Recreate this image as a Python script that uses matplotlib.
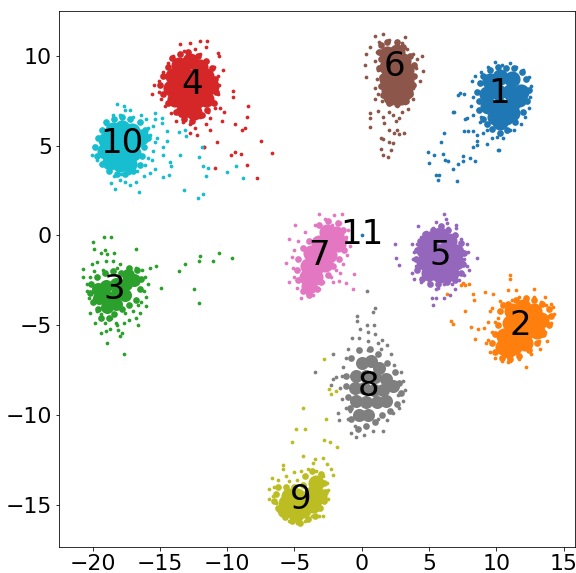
import matplotlib
matplotlib.use("Agg")
import matplotlib.pyplot as plt

colors = ['tab:blue', 'tab:orange', 'tab:green', 'tab:red', 'tab:purple', 'tab:brown',
          'tab:pink', 'tab:gray', 'tab:olive', 'tab:cyan', 'tab:blue']
names = ['1', '2', '3', '4', '5', '6', '7', '8', '9', '10', '11']
label_x = [10.2, 11.8, -18.4, -12.6, 5.85, 2.45, -3.2, 0.5, -4.55, -17.8, 0.0]
label_y = [7.9, -5.0, -3.0, 8.4, -1.1, 9.4, -1.1, -8.4, -14.7, 5.1, 0.05]
x_ticks = [-20, -15, -10, -5, 0, 5, 10, 15]
y_ticks = [-15, -10, -5, 0, 5, 10]

# individual points
pts_1 = [(6.1, 5.7), (5.9, 5.2), (4.9, 4.65), (5.4, 4.5), (6.05, 4.55), (5.0, 4.05), (6.2, 4.2), (6.4, 4.15),
         (7.15, 4.0), (7.5, 4.4), (7.5, 4.15), (8.05, 4.3), (8.4, 4.15), (6.8, 3.7), (5.55, 3.35), (5.75, 3.35),
         (5.65, 3.1), (7.05, 3.05), (8.25, 4.9), (8.55, 5.25), (8.55, 5.05), (9.3, 5.1), (10.1, 4.75), (10.2, 4.75),
         (6.8, 6.9), (6.85, 6.9), (7.15, 7.8), (7.3, 7.95), (7.6, 7.9), (7.7, 6.5), (7.8, 6.55), (7.6, 5.8),
         (7.9, 5.8), (8.3, 5.8), (8.6, 5.6), (9.7, 5.45), (10.05, 5.5), (11.0, 5.85), (8.2, 8.6), (8.4, 8.9),
         (8.9, 9.1), (9.4, 9.4), (9.9, 9.65), (10.4, 9.5), (11.0, 9.6), (11.5, 9.4), (12.0, 9.2), (12.4, 8.8),
         (12.6, 8.3), (12.5, 7.7), (12.4, 7.1), (12.1, 6.6), (11.8, 6.2), (11.3, 5.9), (9.3, 5.9), (8.8, 6.3),
         (8.3, 6.7), (8.1, 7.2), (8.3, 7.7), (8.7, 8.0), (8.9, 6.6), (9.0, 5.7), (10.5, 5.4), (10.7, 5.8)]
mid_1 = [(8.6, 8.0), (8.7, 7.5), (8.7, 7.0), (9.0, 6.5), (9.3, 6.2), (9.7, 5.95), (10.3, 5.7), (10.8, 5.9), (11.4, 6.3),
         (12.0, 6.9), (12.3, 7.5), (12.4, 8.1), (12.2, 8.7), (11.9, 9.1), (11.3, 9.3), (10.7, 9.3), (10.1, 9.4),
         (9.5, 9.2), (9.0, 8.9), (8.8, 8.5)]
core_1 = [(9.5, 8.6), (10.3, 8.8), (11.2, 8.7), (9.3, 7.9), (10.1, 8.0), (11.0, 8.0), (11.8, 8.0), (9.4, 7.2), (10.3, 7.2),
          (11.2, 7.3), (11.7, 7.6), (9.9, 6.6), (10.7, 6.6), (11.2, 6.8), (10.3, 6.3)]

pts_2 = [(11.05, -2.23), (11.0, -2.42), (7.53, -2.65), (7.7, -2.75), (7.35, -2.75), (7.95, -2.7), (8.3, -3.25),
         (8.35, -3.6), (9.15, -3.17), (9.75, -3.25), (6.35, -3.25), (7.7, -4.2), (6.65, -4.75), (6.8, -4.95),
         (8.1, -5.1), (8.65, -5.2), (9.05, -5.15), (8.45, -5.75), (10.85, -3.05), (11.45, -3.05), (12.8, -3.0),
         (14.1, -3.8), (13.65, -3.4), (13.8, -5.85), (12.2, -7.3), (11.05, -7.0), (11.7, -6.9), (13.25, -6.35),
         (9.65, -4.05), (9.4, -4.8), (10.25, -3.65), (9.5, -4.2), (9.9, -4.8), (9.2, -6.0), (9.5, -6.5), (9.9, -6.8),
         (10.4, -7.0), (10.9, -7.05), (12.6, -6.6), (13.2, -5.9), (13.6, -5.4), (14.1, -4.9), (14.3, -4.4),
         (14.2, -4.0), (13.3, -3.7), (12.8, -3.4), (12.3, -3.6), (11.7, -3.4), (11.2, -3.6), (10.6, -3.9),
         (10.2, -4.2), (10.1, -4.6), (9.7, -5.4), (9.35, -5.8), (13.9, -4.5), (13.7, -3.9)]
mid_2 = [(10.3, -4.2), (10.5, -3.9), (10.1, -5.0), (9.9, -5.5), (9.7, -6.0), (9.9, -6.5), (10.4, -6.8), (11.0, -6.9),
         (11.7, -6.7), (12.4, -6.4), (13.0, -6.0), (13.5, -5.5), (13.9, -5.0), (14.1, -4.5), (13.9, -4.1), (13.4, -3.8),
         (12.8, -3.6), (12.2, -3.5), (11.5, -3.6), (10.9, -3.8)]
core_2 = [(11.2, -4.2), (12.0, -4.0), (12.8, -4.2), (13.3, -4.7), (12.6, -4.8), (11.8, -4.7), (11.0, -4.9), (10.6, -5.6),
          (11.4, -5.5), (12.2, -5.4), (13.0, -5.3), (10.5, -6.2), (11.3, -6.2), (12.1, -6.0), (10.9, -6.4)]

pts_3 = [(-19.13, -0.07), (-18.64, -0.11), (-19.95, -0.35), (-19.9, -0.76), (-19.08, -0.82), (-16.77, -0.76),
         (-18.4, -0.99), (-18.9, -1.02), (-19.35, -0.99), (-15.3, -1.7), (-15.7, -1.8), (-14.9, -2.9), (-13.6, -1.97),
         (-13.1, -1.6), (-12.1, -1.4), (-12.05, -1.12), (-11.07, -1.4), (-10.6, -0.99), (-9.65, -1.26), (-12.45, -3.0),
         (-12.1, -3.75), (-18.9, -6.0), (-17.7, -6.6), (-20.7, -2.3), (-20.7, -1.85), (-16.0, -3.95), (-16.6, -5.0),
         (-17.8, -5.45), (-18.0, -5.6), (-18.1, -5.25), (-19.35, -5.45), (-19.8, -4.9), (-20.2, -4.3), (-20.05, -1.6),
         (-19.7, -1.5), (-19.0, -1.45), (-18.5, -1.4), (-18.0, -1.6), (-17.4, -1.8), (-16.8, -1.8), (-16.3, -1.9),
         (-16.1, -2.3), (-15.9, -2.7), (-16.2, -3.1), (-16.0, -3.4), (-16.4, -3.7), (-16.5, -4.3), (-16.8, -4.6),
         (-17.3, -4.7), (-17.7, -4.9), (-18.3, -4.9), (-18.6, -4.6), (-19.1, -4.9), (-19.4, -4.4), (-19.7, -4.2),
         (-20.3, -3.5), (-20.4, -3.1), (-20.4, -2.7), (-20.2, -2.3), (-19.9, -2.0), (-17.0, -4.2), (-17.6, -4.3),
         (-18.2, -5.0), (-18.7, -5.2), (-19.0, -5.3), (-16.6, -3.9), (-19.2, -1.9), (-18.2, -1.8)]
mid_3 = [(-20.1, -2.7), (-20.2, -3.2), (-20.0, -3.7), (-19.6, -4.1), (-19.4, -4.6), (-18.8, -4.6), (-18.4, -4.4),
         (-17.8, -4.1), (-17.3, -3.9), (-16.8, -3.6), (-16.5, -3.0), (-16.4, -2.4), (-16.7, -1.9), (-17.3, -1.8),
         (-17.9, -2.1), (-18.5, -2.0), (-19.1, -2.1), (-19.7, -2.3)]
core_3 = [(-19.6, -3.0), (-19.0, -2.8), (-18.3, -2.7), (-19.5, -3.5), (-18.9, -3.4), (-18.2, -3.2), (-18.9, -4.0),
          (-18.3, -3.8), (-17.5, -2.7), (-16.9, -2.5), (-17.4, -2.2), (-17.6, -3.3)]

pts_4 = [(-8.47, 7.2), (-8.5, 6.6), (-9.4, 6.2), (-8.65, 6.0), (-8.9, 5.9), (-7.5, 5.24), (-6.65, 4.6), (-10.75, 5.2),
         (-11.75, 4.92), (-11.7, 4.9), (-9.4, 4.65), (-8.95, 4.56), (-9.7, 4.47), (-8.55, 3.92), (-10.9, 3.78),
         (-7.75, 3.2), (-12.25, 5.58), (-12.8, 5.7), (-11.6, 6.2), (-11.3, 5.9), (-10.4, 6.4), (-11.3, 6.55),
         (-10.5, 7.1), (-10.25, 6.85), (-9.6, 8.05), (-9.6, 7.7), (-10.3, 9.2), (-10.65, 10.15), (-10.6, 10.0),
         (-12.0, 10.85), (-11.5, 10.85), (-11.6, 10.5), (-15.6, 7.9), (-15.45, 8.4), (-13.5, 10.65), (-13.2, 10.3),
         (-12.8, 10.7), (-12.4, 10.4), (-14.0, 10.0), (-14.4, 9.6), (-14.8, 9.1), (-15.1, 8.6), (-15.1, 8.0),
         (-14.9, 7.6), (-14.6, 7.2), (-14.2, 6.8), (-13.8, 6.4), (-13.3, 6.3), (-12.8, 6.2), (-12.4, 6.0), (-12.0, 6.6),
         (-11.4, 6.9), (-11.0, 7.4), (-10.7, 7.9), (-10.6, 8.4), (-10.7, 8.9), (-11.0, 9.4), (-11.5, 9.7), (-12.0, 10.1),
         (-13.5, 6.7), (-14.3, 7.5), (-10.9, 7.1), (-13.0, 10.0), (-12.3, 9.9)]
mid_4 = [(-14.8, 8.9), (-14.4, 9.4), (-14.1, 9.9), (-13.5, 10.1), (-12.9, 10.2), (-12.2, 10.0), (-11.6, 9.7), (-11.1, 9.3),
         (-10.9, 8.7), (-10.8, 8.0), (-11.0, 7.4), (-11.5, 7.0), (-11.9, 6.7), (-12.6, 6.4), (-13.2, 6.5), (-13.8, 6.9),
         (-14.4, 7.4), (-14.8, 7.9), (-15.0, 8.4)]
core_4 = [(-13.6, 9.5), (-12.8, 9.7), (-12.0, 9.4), (-14.0, 8.9), (-13.2, 9.0), (-12.4, 8.9), (-11.6, 8.9), (-14.2, 8.2),
          (-13.4, 8.3), (-12.6, 8.2), (-11.8, 8.2), (-11.2, 8.3), (-13.9, 7.6), (-13.1, 7.6), (-12.3, 7.5), (-11.6, 7.6),
          (-13.2, 7.0), (-12.5, 6.9)]

pts_5 = [(6.1, 1.17), (4.15, 0.55), (2.5, -0.45), (2.55, -1.25), (2.75, -1.65), (8.6, -1.28), (5.3, -3.85), (5.25, -3.5),
         (5.55, -3.5), (6.1, -3.5), (6.55, -3.3), (6.95, -3.0), (6.25, 0.9), (5.55, 0.75), (7.0, 0.6), (7.0, 0.4),
         (6.3, 0.7), (3.7, -0.5), (8.0, -1.9), (4.4, -0.1), (4.8, 0.2), (5.3, 0.4), (5.8, 0.5), (6.4, 0.4), (6.9, 0.1),
         (7.4, -0.2), (7.8, -0.5), (7.9, -0.9), (7.6, -1.3), (7.8, -1.7), (7.6, -2.2), (7.2, -2.5), (6.7, -2.7),
         (6.1, -2.7), (5.5, -3.0), (5.0, -2.6), (4.4, -2.6), (3.9, -2.4), (3.7, -2.1), (4.0, -1.7), (3.8, -1.3),
         (3.9, -0.9), (4.1, -0.5), (5.7, -2.9), (6.5, -2.5), (7.3, -0.7)]
mid_5 = [(4.3, -0.3), (4.7, 0.1), (5.3, 0.3), (5.9, 0.5), (6.4, 0.3), (6.9, 0.0), (7.4, -0.4), (7.6, -1.0), (7.5, -1.6),
         (7.4, -2.1), (6.9, -2.5), (6.3, -2.6), (5.7, -2.7), (5.1, -2.7), (4.5, -2.4), (4.1, -1.9), (4.0, -1.3), (4.1, -0.8)]
core_5 = [(5.0, -0.2), (5.8, 0.0), (6.5, -0.3), (4.6, -0.8), (5.4, -0.8), (6.2, -0.8), (7.0, -0.9), (4.6, -1.5), (5.4, -1.5),
          (6.2, -1.5), (7.0, -1.5), (5.0, -2.1), (5.8, -2.2), (6.6, -2.1)]

pts_6 = [(0.22, 9.5), (0.35, 8.8), (0.3, 10.1), (0.6, 10.5), (1.0, 11.1), (1.6, 11.2), (3.2, 11.05), (4.45, 10.0),
         (4.55, 9.15), (4.3, 8.6), (3.8, 7.6), (3.45, 7.05), (0.6, 6.8), (0.6, 6.55), (0.6, 6.05), (1.65, 6.25),
         (1.2, 6.95), (2.8, 6.55), (2.55, 6.4), (2.0, 5.85), (2.65, 5.85), (2.4, 5.7), (2.75, 5.65), (3.15, 5.7),
         (1.45, 5.4), (1.6, 5.35), (2.0, 5.2), (2.3, 5.15), (1.4, 4.8), (2.15, 4.75), (1.6, 4.5), (1.95, 4.35),
         (1.3, 10.8), (2.0, 10.9), (2.6, 10.8), (3.0, 10.7), (3.4, 10.4), (3.8, 10.1), (4.1, 9.8), (4.0, 9.3),
         (3.9, 8.8), (3.8, 8.2), (3.6, 7.8), (3.2, 7.4), (2.6, 7.2), (2.0, 7.3), (1.5, 7.5), (1.2, 7.9), (1.0, 8.2),
         (1.1, 8.7), (1.2, 9.2), (1.0, 9.7), (1.1, 10.2), (1.0, 7.6), (2.0, 6.9), (1.6, 6.6), (2.3, 6.7), (3.0, 6.9)]
mid_6 = [(1.4, 10.6), (1.9, 10.8), (2.6, 10.8), (3.1, 10.5), (3.6, 10.0), (3.9, 9.5), (3.9, 8.9), (3.8, 8.4), (3.6, 7.9),
         (3.3, 7.5), (2.6, 7.3), (2.0, 7.4), (1.6, 7.8), (1.4, 8.3), (1.5, 8.8), (1.3, 9.3), (1.4, 9.8), (1.3, 10.2)]
core_6 = [(1.9, 10.1), (2.6, 10.2), (3.1, 9.7), (1.9, 9.4), (2.6, 9.5), (3.3, 9.2), (1.9, 8.7), (2.6, 8.8), (3.3, 8.6),
          (2.0, 8.1), (2.7, 8.1), (3.2, 8.0), (2.2, 7.7), (2.9, 7.7)]

pts_7 = [(-1.45, 1.17), (-2.07, 1.13), (-0.6, -2.15), (-0.67, -3.0), (-1.2, -2.65), (-1.7, -2.55), (-4.93, 0.6),
         (-5.4, -0.17), (-5.6, -1.53), (-5.4, -2.6), (-4.5, -3.5), (-3.2, 1.17), (-2.7, 0.9), (-3.5, 0.6), (-4.2, 0.2),
         (-4.7, -0.3), (-5.0, -0.8), (-5.2, -1.2), (-5.1, -1.8), (-5.0, -2.3), (-4.8, -2.9), (-4.1, -3.2), (-3.6, -3.3),
         (-3.2, -3.0), (-2.9, -2.6), (-2.3, -2.3), (-1.9, -1.9), (-1.4, -1.6), (-1.1, -1.1), (-0.9, -0.6), (-1.2, -0.1),
         (-1.0, 0.3), (-1.6, 0.7), (-2.2, 0.6), (-2.9, 0.3), (-4.0, -3.0), (-2.1, -2.6), (-1.6, -2.1)]
mid_7 = [(-3.2, 0.6), (-2.5, 0.8), (-1.8, 0.7), (-1.4, 0.3), (-1.3, -0.2), (-1.3, -0.8), (-1.7, -1.3), (-2.1, -1.7),
         (-2.5, -2.2), (-3.0, -2.6), (-3.3, -3.0), (-3.9, -3.3), (-4.4, -3.1), (-4.7, -2.5), (-4.8, -1.9), (-4.7, -1.3),
         (-4.4, -0.7), (-3.9, -0.3)]
core_7 = [(-2.6, 0.2), (-1.9, 0.1), (-3.2, -0.4), (-2.5, -0.5), (-1.8, -0.5), (-3.8, -1.0), (-3.1, -1.1), (-2.4, -1.1),
          (-4.0, -1.7), (-3.3, -1.7), (-2.7, -1.6), (-4.1, -2.3), (-3.5, -2.3), (-3.9, -2.8)]

pts_8 = [(0.4, -3.12), (1.0, -4.05), (0.8, -4.25), (-0.32, -4.5), (-0.32, -4.75), (-3.45, -7.6), (-2.15, -6.6),
         (-2.1, -8.0), (-2.25, -8.35), (-1.8, -9.9), (-1.7, -10.3), (0.4, -5.0), (0.9, -5.0), (-0.1, -5.2), (0.5, -5.4),
         (1.0, -5.5), (1.5, -5.8), (-0.7, -5.7), (-0.2, -5.7), (0.5, -5.9), (1.2, -6.0), (1.9, -6.1), (-1.0, -6.3),
         (-0.3, -6.3), (0.5, -6.4), (1.4, -6.3), (2.2, -6.6), (-1.2, -6.8), (2.4, -7.2), (-1.4, -7.3), (2.9, -7.6),
         (3.1, -8.1), (3.2, -8.6), (3.1, -9.2), (2.8, -9.6), (2.3, -9.9), (1.9, -10.3), (1.2, -10.2), (1.6, -10.9),
         (0.8, -10.9), (0.2, -11.1), (-0.4, -11.2), (-0.8, -11.0), (-0.5, -10.6), (-1.0, -10.2), (-1.2, -9.6),
         (-1.5, -9.1), (-1.6, -8.5), (-1.9, -7.9), (-1.5, -7.8), (2.4, -8.2), (2.7, -8.9), (-0.9, -9.8)]
mid_8 = [(-0.8, -6.8), (-0.2, -6.4), (0.6, -6.3), (1.2, -6.6), (1.9, -7.1), (2.5, -7.6), (2.8, -8.2), (2.9, -8.8),
         (2.6, -9.4), (2.1, -9.8), (1.5, -10.0), (1.0, -10.4), (0.3, -10.6), (-0.3, -10.8), (-0.8, -10.2), (-0.9, -9.6),
         (-1.0, -9.0), (-1.2, -8.4), (-1.2, -7.8)]
core_8 = [(0.0, -7.1), (0.7, -7.0), (1.3, -7.4), (-0.4, -7.8), (0.3, -7.8), (1.0, -7.9), (1.8, -8.0), (-0.5, -8.5),
          (0.2, -8.5), (0.9, -8.6), (1.6, -8.6), (2.3, -8.4), (-0.4, -9.2), (0.3, -9.3), (1.1, -9.3), (1.8, -9.2),
          (-0.2, -10.0), (0.5, -10.0)]

pts_9 = [(-2.78, -6.88), (-2.4, -8.57), (-1.95, -8.68), (-2.3, -8.85), (-4.4, -9.6), (-2.63, -10.2), (-4.85, -10.8),
         (-4.2, -10.8), (-5.2, -11.5), (-2.78, -11.4), (-2.35, -11.5), (-1.85, -11.8), (-4.4, -12.3), (-2.85, -12.4),
         (-5.85, -12.8), (-5.85, -13.0), (-3.45, -12.45), (-3.6, -12.65), (-2.55, -12.7), (-2.3, -13.0), (-2.1, -13.35),
         (-6.65, -13.5), (-6.9, -14.1), (-6.9, -14.7), (-2.5, -14.65), (-2.85, -15.6), (-3.2, -15.6), (-6.2, -13.6),
         (-5.6, -13.4), (-5.0, -13.2), (-4.5, -13.1), (-4.0, -13.0), (-3.4, -13.1), (-2.9, -13.4), (-2.6, -13.8),
         (-2.5, -14.2), (-6.5, -14.0), (-6.6, -14.5), (-6.4, -14.9), (-6.2, -15.3), (-5.8, -15.6), (-5.4, -15.9),
         (-4.8, -16.0), (-4.2, -15.9), (-3.7, -15.6), (-3.2, -15.2), (-5.4, -13.7), (-4.8, -13.6)]
mid_9 = [(-6.4, -14.4), (-6.2, -14.0), (-5.6, -14.0), (-5.0, -14.0), (-4.4, -13.9), (-4.2, -13.4), (-3.7, -13.1),
         (-3.0, -13.3), (-2.8, -13.8), (-2.7, -14.3), (-2.8, -14.8), (-3.1, -15.2), (-3.5, -15.6), (-4.0, -15.8),
         (-4.6, -16.0), (-5.2, -15.9), (-5.7, -15.7), (-6.2, -15.2), (-6.5, -14.8)]
core_9 = [(-3.4, -13.8), (-3.7, -14.4), (-3.2, -14.5), (-4.2, -14.7), (-3.6, -15.0), (-5.0, -15.0), (-4.4, -15.3),
          (-5.6, -14.9), (-5.7, -15.3), (-4.8, -14.5), (-4.9, -15.5), (-5.4, -14.5)]

pts_10 = [(-18.2, 7.3), (-17.65, 7.2), (-15.4, 6.8), (-14.85, 6.55), (-15.4, 6.5), (-14.85, 6.25), (-13.6, 5.75),
          (-13.1, 5.85), (-13.05, 5.55), (-14.5, 5.8), (-14.5, 5.25), (-15.2, 5.45), (-14.8, 4.9), (-14.8, 4.5), (-13.5, 4.5),
          (-11.85, 4.9), (-12.1, 4.35), (-14.25, 4.1), (-14.15, 3.85), (-11.8, 3.85), (-11.4, 3.75), (-9.35, 3.85),
          (-10.0, 3.55), (-11.6, 3.3), (-8.85, 3.2), (-14.8, 3.25), (-14.3, 3.35), (-13.2, 2.55), (-11.8, 2.3),
          (-12.15, 2.1), (-16.55, 2.4), (-18.35, 2.6), (-18.6, 2.9), (-15.4, 3.7), (-15.75, 3.5), (-16.2, 3.3),
          (-16.8, 3.0), (-17.2, 2.8), (-17.6, 7.0), (-17.0, 6.6), (-16.4, 6.7), (-16.0, 6.5), (-15.9, 6.0), (-15.7, 5.6),
          (-15.4, 5.2), (-15.5, 4.7), (-15.9, 4.3), (-16.1, 3.9), (-16.7, 3.6), (-17.3, 3.5), (-17.9, 3.4), (-18.4, 3.3),
          (-18.8, 3.6), (-19.2, 4.0), (-19.7, 4.2), (-20.05, 4.5), (-19.9, 5.0), (-19.6, 5.5), (-19.4, 5.9), (-19.0, 6.2),
          (-18.5, 6.7), (-18.0, 6.7), (-17.2, 7.0), (-15.5, 6.1), (-15.6, 4.2), (-17.6, 3.0), (-18.0, 3.1)]
mid_10 = [(-19.3, 5.9), (-19.0, 6.3), (-18.4, 6.5), (-17.8, 6.6), (-17.2, 6.5), (-16.5, 6.3), (-16.1, 5.9), (-15.9, 5.4),
          (-16.2, 4.9), (-16.3, 4.4), (-16.5, 3.9), (-17.0, 3.6), (-17.6, 3.4), (-18.2, 3.4), (-18.8, 3.6), (-19.3, 4.0),
          (-19.7, 4.4), (-19.8, 4.9), (-19.6, 5.4)]
core_10 = [(-18.5, 5.9), (-17.8, 6.0), (-17.1, 5.8), (-19.0, 5.3), (-18.3, 5.3), (-17.6, 5.3), (-16.9, 5.2), (-16.4, 5.5),
           (-19.1, 4.7), (-18.4, 4.6), (-17.7, 4.6), (-17.0, 4.6), (-18.7, 4.1), (-18.0, 4.0), (-17.3, 4.0)]

pts_11 = [(0.0, 0.0)]
mid_11 = []
core_11 = []

all_pts = [pts_1, pts_2, pts_3, pts_4, pts_5, pts_6, pts_7, pts_8, pts_9, pts_10, pts_11]
all_mid = [mid_1, mid_2, mid_3, mid_4, mid_5, mid_6, mid_7, mid_8, mid_9, mid_10, mid_11]
all_core = [core_1, core_2, core_3, core_4, core_5, core_6, core_7, core_8, core_9, core_10, core_11]
# green and gray are looser than the rest, so they get smaller wide dots
core_size = [260, 260, 170, 260, 260, 260, 260, 170, 260, 260, 260]

fig, ax = plt.subplots(figsize=(8, 573 / 72), dpi=72)
fig.subplots_adjust(left=59 / 576, right=575 / 576, top=1 - 11 / 573, bottom=1 - 547 / 573)

for i in range(len(names)):
    ax.scatter(*zip(*all_pts[i]), s=14, color=colors[i], linewidths=0)
    if all_core[i]:
        # the dense middle of a cluster, one wide dot stands for many small ones
        ax.scatter(*zip(*all_mid[i]), s=45, color=colors[i], linewidths=0)
        ax.scatter(*zip(*all_core[i]), s=core_size[i], color=colors[i], linewidths=0)
for i in range(len(names)):
    ax.text(label_x[i], label_y[i], names[i], fontsize=34, ha='center', va='center')

ax.set_xlim(-22.5, 15.85)
ax.set_ylim(-17.35, 12.5)
ax.set_xticks(x_ticks)
ax.set_yticks(y_ticks)
ax.tick_params(labelsize=22)

plt.savefig('out.png', dpi=72)
